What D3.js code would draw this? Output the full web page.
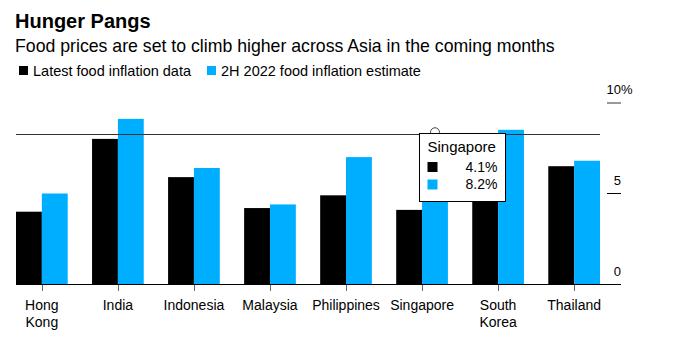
<!DOCTYPE html>
<html>
<head>
<meta charset="utf-8">
<script src="https://cdn.jsdelivr.net/npm/d3@7"></script>
<style>
  html, body { margin: 0; padding: 0; background: #fff; }
  svg { display: block; font-family: "Liberation Sans", Arial, Helvetica, sans-serif; }
</style>
</head>
<body>
<svg id="chart" width="674" height="346"></svg>
<script>
// Food inflation by economy, percent
const categories = ["Hong Kong", "India", "Indonesia", "Malaysia", "Philippines", "Singapore", "South Korea", "Thailand"];
const latest =   [4.0, 8.0, 5.9, 4.2, 4.9, 4.1, 6.0, 6.5];
const estimate = [5.0, 9.1, 6.4, 4.4, 7.0, 8.2, 8.5, 6.8];
const seriesNames = ["Latest food inflation data", "2H 2022 food inflation estimate"];
const seriesColors = ["#000000", "#00aeff"];
const yTicks = [0, 5, 10];
const highlighted = "Singapore";

const svg = d3.select("#chart");

// Header
svg.append("text").attr("x", 15).attr("y", 27.5)
  .attr("font-size", 20).attr("font-weight", "bold").attr("fill", "#000")
  .text("Hunger Pangs");
svg.append("text").attr("x", 15).attr("y", 51.5)
  .attr("font-size", 17.7).attr("fill", "#000")
  .text("Food prices are set to climb higher across Asia in the coming months");

// Legend
const legendX = [19, 207];
seriesNames.forEach((name, i) => {
  const g = svg.append("g").attr("transform", `translate(${legendX[i]},66)`);
  g.append("rect").attr("width", 9).attr("height", 9).attr("fill", seriesColors[i]);
  g.append("text").attr("x", 14).attr("y", 9.5).attr("font-size", 14.5).attr("fill", "#000").text(name);
});

// Scales
const x0 = d3.scaleBand().domain(categories).range([16, 600]).paddingInner(0.32).paddingOuter(0);
const x1 = d3.scaleBand().domain([0, 1]).range([0, x0.bandwidth()]);
const y = d3.scaleLinear().domain([0, 10]).range([284.5, 102.5]);

const rows = categories.map((c, i) => ({ c, v: [latest[i], estimate[i]] }));

// Bars
const groups = svg.append("g").selectAll("g").data(rows).join("g")
  .attr("transform", d => `translate(${x0(d.c)},0)`);
groups.selectAll("rect").data(d => d.v.map((v, k) => ({ v, k }))).join("rect")
  .attr("x", d => x1(d.k))
  .attr("width", x1.bandwidth())
  .attr("y", d => y(d.v))
  .attr("height", d => y(0) - y(d.v))
  .attr("fill", d => seriesColors[d.k]);

// Baseline and category ticks
svg.append("line").attr("x1", 16).attr("x2", 621).attr("y1", 284.5).attr("y2", 284.5)
  .attr("stroke", "#000").attr("stroke-width", 1);
svg.append("g").selectAll("line").data(categories).join("line")
  .attr("x1", d => Math.round(x0(d) + x0.bandwidth() / 2) + 0.5)
  .attr("x2", d => Math.round(x0(d) + x0.bandwidth() / 2) + 0.5)
  .attr("y1", 285).attr("y2", 291)
  .attr("stroke", "#666").attr("stroke-width", 1);

// Category labels (two-word names wrap onto two lines)
const labels = svg.append("g").selectAll("text").data(categories).join("text")
  .attr("text-anchor", "middle").attr("font-size", 14).attr("fill", "#000")
  .attr("x", d => x0(d) + x0.bandwidth() / 2)
  .attr("y", 309.5);
labels.each(function (d) {
  const t = d3.select(this);
  d.split(" ").forEach((w, i) => {
    t.append("tspan").attr("x", x0(d) + x0.bandwidth() / 2).attr("dy", i === 0 ? 0 : 17).text(w);
  });
});

// Right-hand value axis
const yAxis = svg.append("g");
yTicks.forEach(t => {
  const ty = y(t);
  if (t !== 0) {
    yAxis.append("line").attr("x1", 607).attr("x2", 621)
      .attr("y1", t === 10 ? Math.round(ty) : ty).attr("y2", t === 10 ? Math.round(ty) : ty)
      .attr("stroke", t === 10 ? "#999" : "#000").attr("stroke-width", t === 10 ? 2 : 1);
  }
  yAxis.append("text").attr("x", 621).attr("y", ty - 8.5)
    .attr("text-anchor", "end").attr("font-size", 13).attr("fill", "#000").text(t);
  if (t === d3.max(yTicks)) {
    yAxis.append("text").attr("x", 621).attr("y", ty - 8.5)
      .attr("font-size", 13).attr("fill", "#000").text("%");
  }
});

// Hover crosshair on the highlighted economy
const hi = categories.indexOf(highlighted);
const hy = y(estimate[hi]);
svg.append("line").attr("x1", 16).attr("x2", 600).attr("y1", Math.round(hy) - 0.5).attr("y2", Math.round(hy) - 0.5)
  .attr("stroke", "#333").attr("stroke-width", 1);
svg.append("circle")
  .attr("cx", x0(highlighted) + x1(1) + x1.bandwidth() / 2)
  .attr("cy", hy - 3)
  .attr("r", 4.5).attr("fill", "#fff").attr("stroke", "#444").attr("stroke-width", 1);

// Tooltip
const tipX = Math.round(x0(highlighted) + x0.bandwidth() / 2 - 3) + 0.5;
const tipY = Math.round(hy) - 1.5;
const tip = svg.append("g").attr("transform", `translate(${tipX},${tipY})`);
tip.append("rect").attr("width", 86).attr("height", 68)
  .attr("fill", "#fff").attr("stroke", "#000").attr("stroke-width", 1);
tip.append("text").attr("x", 8).attr("y", 18.5).attr("font-size", 15).attr("fill", "#000").text(highlighted);
[latest[hi], estimate[hi]].forEach((v, k) => {
  tip.append("rect").attr("x", 8).attr("y", 28.5 + k * 17.5).attr("width", 10).attr("height", 10)
    .attr("fill", seriesColors[k]);
  tip.append("text").attr("x", 78).attr("y", 38 + k * 17.5).attr("text-anchor", "end")
    .attr("font-size", 14).attr("fill", "#000").text(d3.format(".1f")(v) + "%");
});
</script>
</body>
</html>
